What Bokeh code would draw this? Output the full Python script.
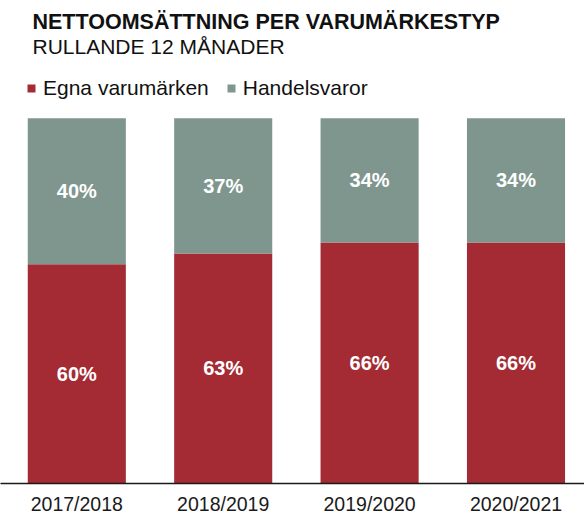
from bokeh.plotting import figure
from bokeh.models import ColumnDataSource, Range1d, FixedTicker, Label, Legend
from bokeh.core.properties import value
from bokeh.embed import file_html
from bokeh.resources import INLINE

# ---- data ----
categories = ["2017/2018", "2018/2019", "2019/2020", "2020/2021"]
egna = [60, 63, 66, 66]
handel = [40, 37, 34, 34]
series_names = ["Egna varumärken", "Handelsvaror"]
title_text = "NETTOOMSÄTTNING PER VARUMÄRKESTYP"
subtitle_text = "RULLANDE 12 MÅNADER"

RED = "#A42A33"
GREY = "#7E968E"
FONT = "Liberation Sans"

W, H = 584, 517
BOTTOM = 33
FRAME_H = H - BOTTOM

xs = list(range(len(categories)))
source = ColumnDataSource(dict(
    x=xs,
    egna=egna,
    handel=handel,
    egna_mid=[e / 2 for e in egna],
    handel_mid=[e + h / 2 for e, h in zip(egna, handel)],
    egna_lbl=[f"{v}%" for v in egna],
    handel_lbl=[f"{v}%" for v in handel],
))

p = figure(width=W, height=H, output_backend="svg", toolbar_location=None,
           x_range=Range1d(-0.5212, 3.4679), y_range=Range1d(0, 132.24),
           y_axis_location=None, min_border_left=0, min_border_right=0,
           min_border_top=0, min_border_bottom=BOTTOM)
p.outline_line_color = None
p.xgrid.visible = False
p.ygrid.visible = False

rs = p.vbar_stack(["egna", "handel"], x="x", width=0.67, color=[RED, GREY],
                  line_color=None, source=source)

p.text(x="x", y="egna_mid", text="egna_lbl", source=source, text_color="white",
       text_font=value(FONT), text_font_style="bold", text_font_size="20px",
       text_align="center", text_baseline="middle")
p.text(x="x", y="handel_mid", text="handel_lbl", source=source, text_color="white",
       text_font=value(FONT), text_font_style="bold", text_font_size="20px",
       text_align="center", text_baseline="middle")

ax = p.xaxis[0]
ax.ticker = FixedTicker(ticks=xs)
ax.major_label_overrides = {i: c for i, c in zip(xs, categories)}
ax.major_tick_line_color = None
ax.minor_tick_line_color = None
ax.major_tick_out = 0
ax.major_tick_in = 0
ax.minor_tick_out = 0
ax.minor_tick_in = 0
ax.axis_line_color = "#1a1a1a"
ax.axis_line_width = 1.3
ax.major_label_text_font = FONT
ax.major_label_text_font_size = "19.5px"
ax.major_label_text_color = "#1a1a1a"
ax.major_label_standoff = 9

# title & subtitle (screen units relative to frame, y up)
p.add_layout(Label(x=32, y=FRAME_H - 22, x_units="screen", y_units="screen",
                   text=title_text, text_font=FONT, text_font_style="bold",
                   text_font_size="21.5px", text_color="#111111",
                   text_baseline="alphabetic"))
p.add_layout(Label(x=32, y=FRAME_H - 47, x_units="screen", y_units="screen",
                   text=subtitle_text, text_font=FONT,
                   text_font_size="21px", text_color="#111111",
                   text_baseline="alphabetic"))

legend = Legend(items=[(series_names[0], [rs[0]]), (series_names[1], [rs[1]])],
                orientation="horizontal", location=(26, FRAME_H - 101),
                glyph_width=10, glyph_height=10, label_height=20,
                label_standoff=7, spacing=17, padding=0, margin=0,
                border_line_color=None, background_fill_alpha=0,
                label_text_font=FONT, label_text_font_size="21px",
                label_text_color="#111111")
p.add_layout(legend)

open("out.html", "w").write(file_html(p, INLINE))
